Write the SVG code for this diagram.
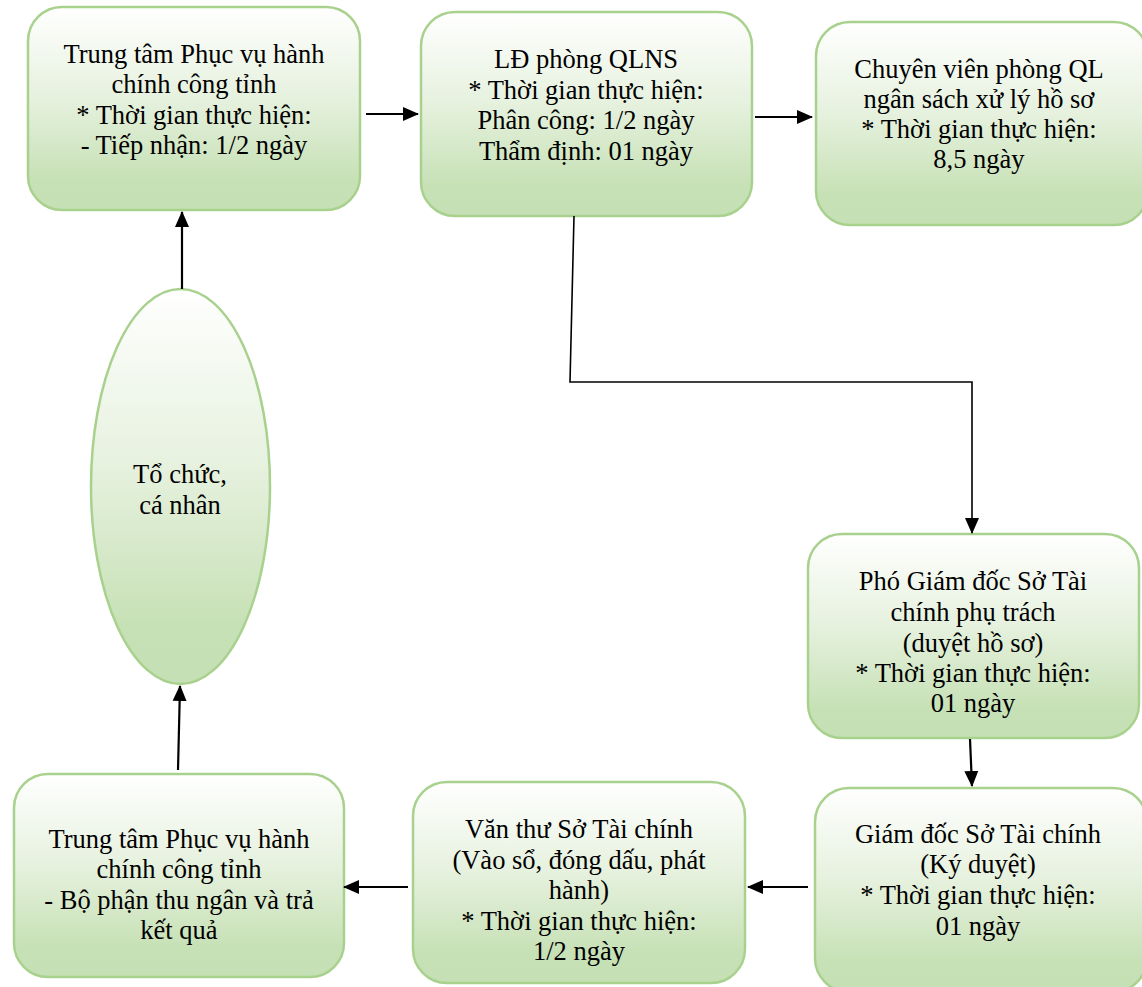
<svg xmlns="http://www.w3.org/2000/svg" width="1142" height="987" viewBox="0 0 1142 987">
<defs>
<linearGradient id="g" x1="0" y1="0" x2="0" y2="1">
<stop offset="0" stop-color="#ffffff"/>
<stop offset="0.45" stop-color="#e6f1de"/>
<stop offset="0.85" stop-color="#c7e1b6"/>
<stop offset="1" stop-color="#c5e0b4"/>
</linearGradient>
<marker id="ah" markerUnits="userSpaceOnUse" markerWidth="16" markerHeight="16" viewBox="0 0 16 16" refX="15" refY="8" orient="auto">
<path d="M0,1 L16,8 L0,15 Z" fill="#000"/>
</marker>
</defs>
<style>
.box{fill:url(#g);stroke:#a9d18e;stroke-width:2.5}
.t{font-family:'Liberation Serif','Times New Roman',serif;font-size:26.5px;fill:#000;text-anchor:middle}
.c{fill:none;stroke:#000;stroke-width:2.2}
.c2{fill:none;stroke:#000;stroke-width:1.6}
</style>
<rect width="1142" height="987" fill="#fff"/>
<g id="n1">
<rect class="box" x="28" y="7" width="332" height="203" rx="34"/>
<text class="t" x="194" y="63">Trung tâm Phục vụ hành</text>
<text class="t" x="194" y="93">chính công tỉnh</text>
<text class="t" x="194" y="124">* Thời gian thực hiện:</text>
<text class="t" x="194" y="154">- Tiếp nhận: 1/2 ngày</text>
</g>
<g id="n2">
<rect class="box" x="421" y="12" width="331" height="204" rx="34"/>
<text class="t" x="586" y="68">LĐ phòng QLNS</text>
<text class="t" x="586" y="99">* Thời gian thực hiện:</text>
<text class="t" x="586" y="129">Phân công: 1/2 ngày</text>
<text class="t" x="586" y="160">Thẩm định: 01 ngày</text>
</g>
<g id="n3">
<rect class="box" x="816" y="22" width="332" height="203" rx="34"/>
<text class="t" x="979" y="78">Chuyên viên phòng QL</text>
<text class="t" x="979" y="108">ngân sách xử lý hồ sơ</text>
<text class="t" x="979" y="138">* Thời gian thực hiện:</text>
<text class="t" x="979" y="168">8,5 ngày</text>
</g>
<g id="n4">
<rect class="box" x="808" y="534" width="331" height="204" rx="34"/>
<text class="t" x="973" y="590">Phó Giám đốc Sở Tài</text>
<text class="t" x="973" y="621">chính phụ trách</text>
<text class="t" x="973" y="652">(duyệt hồ sơ)</text>
<text class="t" x="973" y="682">* Thời gian thực hiện:</text>
<text class="t" x="973" y="712">01 ngày</text>
</g>
<g id="n5">
<rect class="box" x="815" y="788" width="332" height="204" rx="34"/>
<text class="t" x="978" y="843">Giám đốc Sở Tài chính</text>
<text class="t" x="978" y="873">(Ký duyệt)</text>
<text class="t" x="978" y="904">* Thời gian thực hiện:</text>
<text class="t" x="978" y="935">01 ngày</text>
</g>
<g id="n6">
<rect class="box" x="413" y="782" width="332" height="201" rx="34"/>
<text class="t" x="579" y="838">Văn thư Sở Tài chính</text>
<text class="t" x="579" y="869">(Vào sổ, đóng dấu, phát</text>
<text class="t" x="579" y="899">hành)</text>
<text class="t" x="579" y="930">* Thời gian thực hiện:</text>
<text class="t" x="579" y="960">1/2 ngày</text>
</g>
<g id="n7">
<rect class="box" x="14" y="774" width="330" height="203" rx="34"/>
<text class="t" x="179" y="848">Trung tâm Phục vụ hành</text>
<text class="t" x="179" y="878">chính công tỉnh</text>
<text class="t" x="179" y="909">- Bộ phận thu ngân và trả</text>
<text class="t" x="179" y="939">kết quả</text>
</g>
<g id="n0">
<ellipse class="box" cx="180.5" cy="486.5" rx="89.5" ry="197.5"/>
<text class="t" x="180" y="483">Tổ chức,</text>
<text class="t" x="180" y="514">cá nhân</text>
</g>
<g id="connectors">
<line class="c" x1="182" y1="289" x2="182" y2="212" marker-end="url(#ah)"/>
<line class="c" x1="178" y1="770" x2="180" y2="686" marker-end="url(#ah)"/>
<line class="c" x1="366" y1="114" x2="418" y2="114" marker-end="url(#ah)"/>
<line class="c" x1="755" y1="117" x2="812" y2="117" marker-end="url(#ah)"/>
<polyline class="c2" points="574,216 570,382 972,382 972,533" marker-end="url(#ah)"/>
<line class="c" x1="970" y1="739" x2="972" y2="786" marker-end="url(#ah)"/>
<line class="c" x1="808" y1="887" x2="748" y2="887" marker-end="url(#ah)"/>
<line class="c" x1="408" y1="887" x2="344" y2="887" marker-end="url(#ah)"/>
</g>
</svg>
